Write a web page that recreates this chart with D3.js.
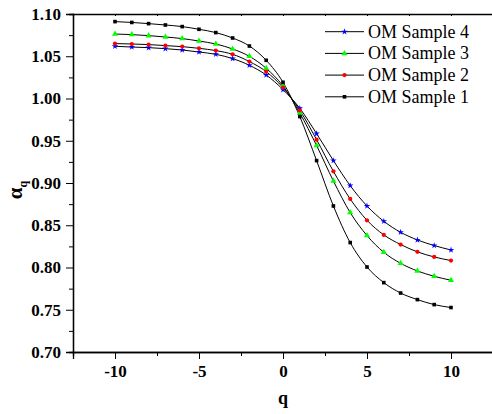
<!DOCTYPE html>
<html>
<head>
<meta charset="utf-8">
<script src="https://cdn.jsdelivr.net/npm/d3@7"></script>
<style>
  body { margin: 0; background: #fff; }
  svg text { font-family: "Liberation Serif", "DejaVu Serif", "Times New Roman", Times, serif; }
</style>
</head>
<body>
<svg id="chart" width="492" height="414"></svg>
<script>
// q values and alpha_q per sample
var qValues = [-10, -9, -8, -7, -6, -5, -4, -3, -2, -1, 0, 1, 2, 3, 4, 5, 6, 7, 8, 9, 10];

var sample1 = [1.091, 1.090, 1.0886, 1.087, 1.0851, 1.0819, 1.078, 1.0716, 1.0621, 1.0452, 1.0192,
               0.9786, 0.9265, 0.8728, 0.8295, 0.8006, 0.7821, 0.7698, 0.7620, 0.7561, 0.7526];
var sample2 = [1.065, 1.0645, 1.0638, 1.0626, 1.0614, 1.0594, 1.0567, 1.0523, 1.0437, 1.0318, 1.0129,
               0.9860, 0.9513, 0.9138, 0.8811, 0.8559, 0.8386, 0.8272, 0.8185, 0.8125, 0.8082];
var sample3 = [1.0763, 1.0756, 1.0744, 1.0728, 1.0709, 1.0680, 1.0645, 1.0586, 1.0499, 1.0357, 1.0148,
               0.9828, 0.9443, 0.9024, 0.8650, 0.8378, 0.8180, 0.8050, 0.7959, 0.7896, 0.7849];
var sample4 = [1.0618, 1.0609, 1.0602, 1.059, 1.0574, 1.055, 1.0523, 1.0472, 1.0393, 1.0278, 1.0105,
               0.9884, 0.9584, 0.9265, 0.8969, 0.8728, 0.8547, 0.8417, 0.8326, 0.8260, 0.8207];

var seriesNames = ["OM Sample 4", "OM Sample 3", "OM Sample 2", "OM Sample 1"];
var seriesValues = [sample4, sample3, sample2, sample1];
var seriesColors = ["#0000ff", "#00ff00", "#ff0000", "#000000"];
var seriesSymbols = [d3.symbolStar, d3.symbolTriangle, d3.symbolCircle, d3.symbolSquare];

var xTicks = [-10, -5, 0, 5, 10];
var xMinor = [-12.5, -7.5, -2.5, 2.5, 7.5, 12.5];
var yTicks = [0.70, 0.75, 0.80, 0.85, 0.90, 0.95, 1.00, 1.05, 1.10];
var yMinor = [0.725, 0.775, 0.825, 0.875, 0.925, 0.975, 1.025, 1.075];

(function() {
    var svg = d3.select("#chart");
    var plotLeft = 73, plotTop = 14, plotBottom = 352;
    var serif = '"Liberation Serif", "DejaVu Serif", serif';

    var x = d3.scaleLinear().domain([-12.5, 12.5]).range([plotLeft, plotLeft + 25 * 16.8]);
    var y = d3.scaleLinear().domain([0.70, 1.10]).range([plotBottom, plotTop]);

    // --- axes
    svg.append("g").attr("transform", "translate(0," + plotBottom + ")")
        .call(d3.axisBottom(x).tickValues(xTicks).tickSize(7).tickPadding(6)
            .tickFormat(function(d) { return String(d); }));
    svg.append("g").attr("transform", "translate(0," + plotBottom + ")")
        .call(d3.axisBottom(x).tickValues(xMinor).tickSize(4).tickFormat(""));

    svg.append("g").attr("transform", "translate(" + plotLeft + ",0)")
        .call(d3.axisLeft(y).tickValues(yTicks).tickSize(7).tickPadding(5)
            .tickFormat(d3.format(".2f")));
    svg.append("g").attr("transform", "translate(" + plotLeft + ",0)")
        .call(d3.axisLeft(y).tickValues(yMinor).tickSize(4).tickFormat(""));

    // top frame with small inward ticks
    svg.append("g").attr("transform", "translate(0," + plotTop + ")")
        .call(d3.axisTop(x).tickValues(xTicks.concat(xMinor)).tickSize(-2).tickFormat(""));

    svg.selectAll("g").attr("font-family", serif);
    svg.selectAll(".domain").attr("stroke", "#000").attr("stroke-width", 1.3);
    svg.selectAll(".tick line").attr("stroke", "#000").attr("stroke-width", 1);
    svg.selectAll(".tick text")
        .attr("fill", "#000")
        .attr("font-family", serif)
        .attr("font-weight", "bold")
        .attr("font-size", 17);

    // --- lines and markers
    var line = d3.line()
        .x(function(d, i) { return x(qValues[i]); })
        .y(function(d) { return y(d); })
        .curve(d3.curveMonotoneX);

    seriesValues.forEach(function(vals) {
        svg.append("path")
            .datum(vals)
            .attr("d", line)
            .attr("fill", "none")
            .attr("stroke", "#000")
            .attr("stroke-width", 1);
    });

    var symSize = [13, 16, 14, 13];
    seriesValues.forEach(function(vals, s) {
        svg.append("g").selectAll("path")
            .data(vals)
            .enter().append("path")
            .attr("d", d3.symbol().type(seriesSymbols[s]).size(symSize[s]))
            .attr("transform", function(d, i) {
                return "translate(" + x(qValues[i]) + "," + y(d) + ")";
            })
            .attr("fill", seriesColors[s]);
    });

    // --- legend
    var legend = svg.append("g");
    seriesNames.forEach(function(name, s) {
        var ly = 31.7 + s * 21.7;
        legend.append("line")
            .attr("x1", 325).attr("x2", 364)
            .attr("y1", ly).attr("y2", ly)
            .attr("stroke", "#000").attr("stroke-width", 1);
        legend.append("path")
            .attr("d", d3.symbol().type(seriesSymbols[s]).size(symSize[s]))
            .attr("transform", "translate(344.5," + ly + ")")
            .attr("fill", seriesColors[s]);
        legend.append("text")
            .attr("x", 368).attr("y", ly + 6)
            .attr("font-family", serif)
            .attr("font-size", 18)
            .text(name);
    });

    // --- axis titles
    svg.append("text")
        .attr("x", x(0)).attr("y", 404)
        .attr("text-anchor", "middle")
        .attr("font-family", serif)
        .attr("font-size", 18).attr("font-weight", "bold")
        .text("q");

    var yl = svg.append("text")
        .attr("transform", "translate(22,190) rotate(-90)")
        .attr("text-anchor", "middle")
        .attr("font-family", serif)
        .attr("font-size", 21).attr("font-weight", "bold");
    yl.append("tspan").text("α");
    yl.append("tspan").attr("dy", 5).attr("font-size", 12).text("q");
})();
</script>
</body>
</html>
